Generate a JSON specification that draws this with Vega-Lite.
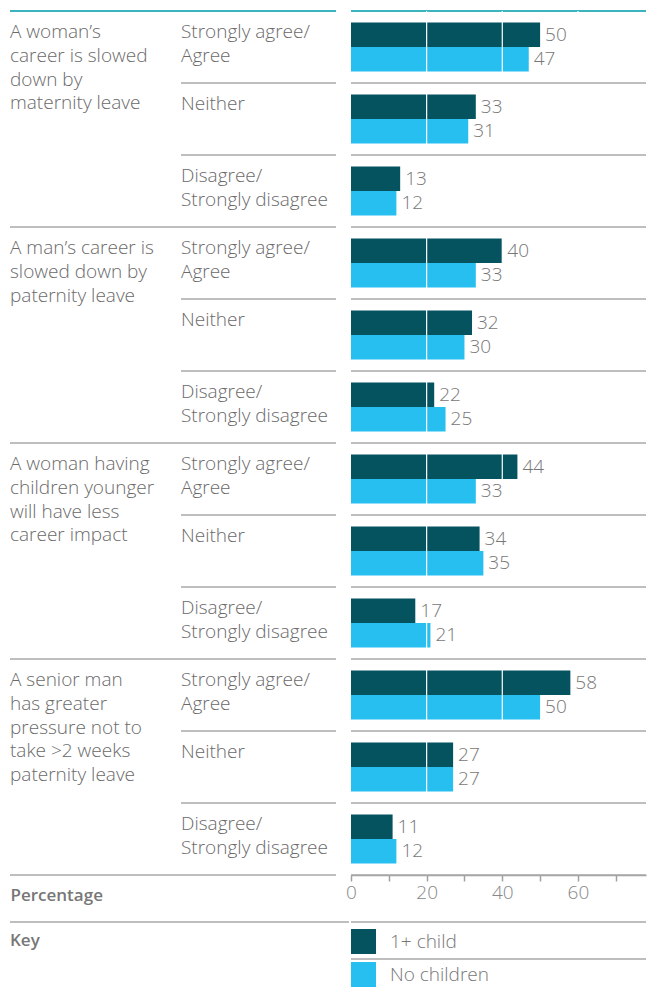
{
  "$schema": "https://vega.github.io/schema/vega-lite/v6.json",
  "padding": {"left": 9, "top": 10, "right": 0, "bottom": 0},
  "background": "white",
  "config": {"view": {"stroke": null}, "font": "Open Sans"},
  "datasets": {
    "bars": [
      {"row": "1a", "series": "1+ child", "value": 50},
      {"row": "1a", "series": "No children", "value": 47},
      {"row": "1b", "series": "1+ child", "value": 33},
      {"row": "1b", "series": "No children", "value": 31},
      {"row": "1c", "series": "1+ child", "value": 13},
      {"row": "1c", "series": "No children", "value": 12},
      {"row": "2a", "series": "1+ child", "value": 40},
      {"row": "2a", "series": "No children", "value": 33},
      {"row": "2b", "series": "1+ child", "value": 32},
      {"row": "2b", "series": "No children", "value": 30},
      {"row": "2c", "series": "1+ child", "value": 22},
      {"row": "2c", "series": "No children", "value": 25},
      {"row": "3a", "series": "1+ child", "value": 44},
      {"row": "3a", "series": "No children", "value": 33},
      {"row": "3b", "series": "1+ child", "value": 34},
      {"row": "3b", "series": "No children", "value": 35},
      {"row": "3c", "series": "1+ child", "value": 17},
      {"row": "3c", "series": "No children", "value": 21},
      {"row": "4a", "series": "1+ child", "value": 58},
      {"row": "4a", "series": "No children", "value": 50},
      {"row": "4b", "series": "1+ child", "value": 27},
      {"row": "4b", "series": "No children", "value": 27},
      {"row": "4c", "series": "1+ child", "value": 11},
      {"row": "4c", "series": "No children", "value": 12}
    ],
    "answers": [
      {"row": "1a", "answer": "Strongly agree/\nAgree"},
      {"row": "1b", "answer": "Neither"},
      {"row": "1c", "answer": "Disagree/\nStrongly disagree"},
      {"row": "2a", "answer": "Strongly agree/\nAgree"},
      {"row": "2b", "answer": "Neither"},
      {"row": "2c", "answer": "Disagree/\nStrongly disagree"},
      {"row": "3a", "answer": "Strongly agree/\nAgree"},
      {"row": "3b", "answer": "Neither"},
      {"row": "3c", "answer": "Disagree/\nStrongly disagree"},
      {"row": "4a", "answer": "Strongly agree/\nAgree"},
      {"row": "4b", "answer": "Neither"},
      {"row": "4c", "answer": "Disagree/\nStrongly disagree"}
    ],
    "questions": [
      {"row": "1a", "end": "1c", "question": "A woman’s\ncareer is slowed\ndown by\nmaternity leave"},
      {"row": "2a", "end": "2c", "question": "A man’s career is\nslowed down by\npaternity leave"},
      {"row": "3a", "end": "3c", "question": "A woman having\nchildren younger\nwill have less\ncareer impact"},
      {"row": "4a", "end": "4c", "question": "A senior man\nhas greater\npressure not to\ntake >2 weeks\npaternity leave"}
    ],
    "top": [{"row": "1a"}],
    "grid": [{"pct": 20}, {"pct": 40}, {"pct": 60}],
    "keys": [{"series": "1+ child"}, {"series": "No children"}],
    "keyTitle": [{"series": "1+ child", "label": "Key"}]
  },
  "spacing": 18,
  "vconcat": [
    {
      "spacing": 8,
      "hconcat": [
        {
          "spacing": 0,
          "bounds": "flush",
          "hconcat": [
            {
              "width": 171,
              "height": 864,
              "layer": [
                {
                  "data": {"name": "top"},
                  "mark": {"type": "rule", "color": "#3cb4bd", "strokeWidth": 2},
                  "encoding": {
                    "y": {"field": "row", "type": "nominal", "bandPosition": 0, "axis": null,
                      "scale": {"domain": ["1a","1b","1c","2a","2b","2c","3a","3b","3c","4a","4b","4c"], "paddingInner": 0, "paddingOuter": 0}}
                  }
                },
                {
                  "data": {"name": "questions"},
                  "mark": {"type": "rule", "color": "#a8a8a8", "strokeWidth": 1.5},
                  "encoding": {
                    "y": {"field": "end", "type": "nominal", "bandPosition": 1, "axis": null}
                  }
                },
                {
                  "data": {"name": "questions"},
                  "mark": {"type": "text", "align": "left", "baseline": "alphabetic", "dy": 27, "fontSize": 19, "fontWeight": 300, "color": "#6a6a6a", "lineBreak": "\n", "lineHeight": 23.8},
                  "encoding": {
                    "y": {"field": "row", "type": "nominal", "bandPosition": 0, "axis": null},
                    "x": {"datum": 0, "type": "quantitative", "scale": {"domain": [0, 1]},
                      "axis": {"orient": "bottom", "domain": false, "ticks": false, "labels": false, "grid": false,
                        "title": "Percentage", "titleAnchor": "start", "titleAlign": "left", "titlePadding": 12,
                        "titleFont": "Open Sans", "titleFontSize": 17, "titleFontWeight": 600, "titleColor": "#777777"}},
                    "text": {"field": "question", "type": "nominal"}
                  }
                }
              ]
            },
            {
              "width": 155,
              "height": 864,
              "layer": [
                {
                  "data": {"name": "top"},
                  "mark": {"type": "rule", "color": "#3cb4bd", "strokeWidth": 2},
                  "encoding": {
                    "y": {"field": "row", "type": "nominal", "bandPosition": 0, "axis": null,
                      "scale": {"domain": ["1a","1b","1c","2a","2b","2c","3a","3b","3c","4a","4b","4c"], "paddingInner": 0, "paddingOuter": 0}}
                  }
                },
                {
                  "data": {"name": "answers"},
                  "mark": {"type": "rule", "color": "#a8a8a8", "strokeWidth": 1.5},
                  "encoding": {
                    "y": {"field": "row", "type": "nominal", "bandPosition": 1, "axis": null}
                  }
                },
                {
                  "data": {"name": "answers"},
                  "mark": {"type": "text", "align": "left", "baseline": "alphabetic", "dy": 27, "fontSize": 19, "fontWeight": 300, "color": "#6a6a6a", "lineBreak": "\n", "lineHeight": 23.8},
                  "encoding": {
                    "y": {"field": "row", "type": "nominal", "bandPosition": 0, "axis": null},
                    "x": {"datum": 0, "type": "quantitative", "scale": {"domain": [0, 1]}, "axis": null},
                    "text": {"field": "answer", "type": "nominal"}
                  }
                }
              ]
            }
          ]
        },
        {
          "width": 295,
          "height": 864,
          "layer": [
            {
              "data": {"name": "top"},
              "mark": {"type": "rule", "color": "#3cb4bd", "strokeWidth": 2},
              "encoding": {
                "y": {"field": "row", "type": "nominal", "bandPosition": 0, "axis": null,
                  "scale": {"domain": ["1a","1b","1c","2a","2b","2c","3a","3b","3c","4a","4b","4c"], "paddingInner": 0, "paddingOuter": 0}}
              }
            },
            {
              "data": {"name": "bars"},
              "mark": {"type": "bar"},
              "encoding": {
                "y": {"field": "row", "type": "nominal", "axis": null},
                "yOffset": {"field": "series", "type": "nominal", "scale": {"domain": ["1+ child", "No children"], "paddingInner": 0, "paddingOuter": 0.47}},
                "x": {"field": "value", "type": "quantitative",
                  "scale": {"domain": [0, 78], "nice": false, "zero": true},
                  "axis": {
                    "values": [0, 10, 20, 30, 40, 50, 60, 70],
                    "labelExpr": "datum.value % 20 === 0 ? datum.label : ''",
                    "grid": false,
                    "domainColor": "#a0a0a0", "domainWidth": 1.5,
                    "tickColor": "#a0a0a0", "tickSize": 6, "tickWidth": 1.5,
                    "labelFont": "Open Sans", "labelFontSize": 19, "labelFontWeight": 300, "labelColor": "#888888",
                    "labelPadding": 2, "labelFlush": false,
                    "title": null
                  }
                },
                "color": {"field": "series", "type": "nominal",
                  "scale": {"domain": ["1+ child", "No children"], "range": ["#05535f", "#27bfef"]},
                  "legend": {
                    "orient": "none", "legendX": 341, "legendY": 918, "title": null,
                    "direction": "vertical", "padding": 0,
                    "symbolType": "square", "symbolSize": 625, "symbolStrokeWidth": 0, "symbolOpacity": 1,
                    "labelFont": "Open Sans", "labelFontSize": 19, "labelFontWeight": 300, "labelColor": "#777777",
                    "labelOffset": 14, "rowPadding": 8
                  }
                }
              }
            },
            {
              "data": {"name": "grid"},
              "mark": {"type": "rule", "color": "white", "strokeWidth": 1.2},
              "encoding": {"x": {"field": "pct", "type": "quantitative"}}
            },
            {
              "data": {"name": "answers"},
              "mark": {"type": "rule", "color": "#a8a8a8", "strokeWidth": 1.5},
              "encoding": {"y": {"field": "row", "type": "nominal", "bandPosition": 1, "axis": null}}
            },
            {
              "data": {"name": "bars"},
              "mark": {"type": "text", "align": "left", "baseline": "middle", "dx": 5, "fontSize": 19, "fontWeight": 300, "color": "#777777"},
              "encoding": {
                "y": {"field": "row", "type": "nominal", "axis": null},
                "yOffset": {"field": "series", "type": "nominal"},
                "x": {"field": "value", "type": "quantitative"},
                "text": {"field": "value", "type": "quantitative"}
              }
            }
          ]
        }
      ]
    },
    {
      "spacing": 0,
      "hconcat": [
        {
          "width": 339,
          "height": 65,
          "layer": [
            {
              "data": {"name": "keyTitle"},
              "mark": {"type": "rule", "color": "#a8a8a8", "strokeWidth": 1.5},
              "encoding": {
                "y": {"field": "series", "type": "nominal", "bandPosition": 0, "axis": null,
                  "scale": {"domain": ["1+ child", "No children"], "range": [0, 74], "paddingInner": 0, "paddingOuter": 0}}
              }
            },
            {
              "data": {"name": "keyTitle"},
              "mark": {"type": "text", "align": "left", "baseline": "middle", "fontSize": 17, "fontWeight": 600, "color": "#777777"},
              "encoding": {
                "y": {"field": "series", "type": "nominal", "axis": null},
                "x": {"datum": 0, "type": "quantitative", "scale": {"domain": [0, 1]}, "axis": null},
                "text": {"field": "label", "type": "nominal"}
              }
            }
          ]
        },
        {
          "width": 295,
          "height": 65,
          "data": {"name": "keys"},
          "mark": {"type": "rule", "color": "#a8a8a8", "strokeWidth": 1.5},
          "encoding": {
            "y": {"field": "series", "type": "nominal", "bandPosition": 0, "axis": null,
              "scale": {"domain": ["1+ child", "No children"], "range": [0, 74], "paddingInner": 0, "paddingOuter": 0}}
          }
        }
      ]
    }
  ]
}
